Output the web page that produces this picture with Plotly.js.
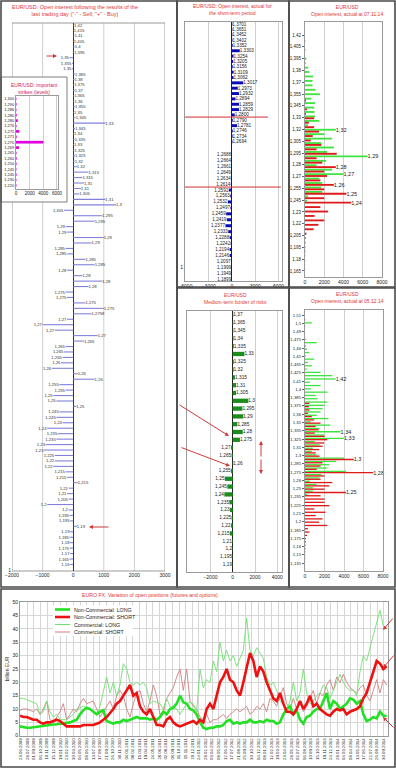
<!DOCTYPE html>
<html><head><meta charset="utf-8">
<script src="https://cdn.plot.ly/plotly-3.0.1.min.js"></script>
<style>html,body{margin:0;padding:0;background:#fff;}#chart{width:396px;height:768px;}</style>
</head><body><div id="chart"></div>
<script>
// ===== Left panel: open interest after last trading day =====
const leftStrikes = ["1,42","1,415","1,41","1,405","1,4","1,395","1,35","1,355","1,35","1,385",
"1,38","1,375","1,37","1,365","1,36","1,355","1,35","1,345","1,33","1,345",
"1,34","1,335","1,33","1,325","1,325","1,32","1,32","1,315","1,315","1,31",
"1,31","1,305","1,31","1,3","1,305","1,295","1,295","1,29","1,29","1,29",
"1,29","1,285","1,285","1,285","1,285","1,28","1,28","1,28","1,28","1,275",
"1,275","1,275","1,275","1,2758","1,27","1,27","1,27","1,27","1,265","1,265",
"1,265","1,265","1,26","1,26","1,26","1,26","1,255","1,255","1,25","1,25",
"1,25","1,245","1,245","1,24","1,24","1,235","1,235","1,23","1,23","1,225",
"1,22","1,22","1,215","1,215","1,215","1,21","1,21","1,205","1,2","1,2",
"1,195","1,195","1,19","1,19","1,185","1,18","1,175","1,17","1,165","1,16"];
const leftValues = [30,20,40,20,50,30,-120,-40,-40,60,
40,30,50,30,40,60,30,80,1050,60,
30,50,30,40,60,50,120,500,300,350,
250,200,1050,1400,-300,950,700,-250,-200,1000,
600,-250,-200,400,700,-200,300,950,500,-250,
-200,400,1000,600,-200,-1000,-600,800,350,-250,
-300,-350,-400,-700,150,700,-450,-250,-650,-550,
100,-450,-550,-350,-850,-500,-550,-900,-950,-600,
-600,-650,-250,-200,150,-150,-200,-150,-850,-150,
-120,-100,120,-100,-120,-100,-120,-100,-120,-100];

// ===== Inset: important strikes =====
const insetStrikes = ["1,300","1,290","1,286","1,280","1,280","1,276","1,275","1,271","1,270","1,269","1,265","1,260","1,250","1,245","1,240","1,230","1,220"];
const insetValues = [60,80,60,100,250,80,500,100,4000,450,80,100,80,60,80,60,60];

// ===== Middle top: short-term period =====
const mtTopStrikes = ["1,3701","1,3651","1,3452","1,3402","1,3352","1,3303","1,3254","1,3205","1,3156","1,3109","1,3062","1,3017","1,2973","1,2932","1,2894","1,2859","1,2829","1,2800","1,2790","1,2781","1,2746","1,2734","1,2694"];
const mtTopValues = [50,50,50,60,100,1000,200,150,100,220,200,1450,750,900,450,900,900,350,100,650,100,80,60];
const mtBotStrikes = ["1,2688","1,2664","1,2661","1,2649","1,2634","1,2614","1,2591","1,2563","1,2532","1,2497","1,2459","1,2419","1,2377","1,2333","1,2288","1,2242","1,2194","1,2146","1,2097","1,1999","1,1949","1,1899"];
const mtBotValues = [-50,-60,-50,-80,-100,-150,-420,-220,-530,-200,-750,-660,-840,-480,-300,-170,-300,-300,-100,-60,-50,-40];

// ===== Middle bottom: medium-term border of risks =====
const mbStrikes = ["1,37","1,365","1,345","1,34","1,335","1,33","1,325","1,32","1,315","1,31","1,305","1,3","1,295","1,29","1,285","1,28","1,275","1,27","1,265","1,26","1,255","1,25","1,245","1,24","1,235","1,23","1,225","1,22","1,215","1,21","1,2","1,195","1,19"];
const mbValues = [50,50,60,80,100,1050,100,80,200,300,300,1400,870,950,420,900,650,-150,-100,50,-150,-700,-480,-750,-300,-250,-100,-150,-250,-50,-30,-30,-30];

// ===== Right top: open interest 07.11.14 =====
const rtStrikes = [1.425,1.42,1.415,1.41,1.405,1.40,1.395,1.39,1.385,1.38,1.375,1.37,1.365,1.36,1.355,1.35,1.345,1.34,1.335,1.33,1.325,1.32,1.315,1.31,1.305,1.30,1.295,1.29,1.285,1.28,1.275,1.27,1.265,1.26,1.255,1.25,1.245,1.24,1.235,1.23,1.225,1.22,1.215,1.21,1.205,1.20,1.195,1.19,1.185,1.18,1.175,1.17,1.165];
const rtGreen = [0,40,0,60,0,150,80,300,450,850,780,780,1100,1550,650,1050,950,1000,1050,1500,300,3200,2000,2800,1700,3000,2300,6500,2200,1200,2800,4000,1500,1800,1700,1800,300,200,0,0,0,0,0,0,0,0,0,0,0,0,0,0,0];
const rtRed = [0,0,0,0,0,0,0,0,0,0,0,0,0,0,100,0,200,100,950,400,950,1450,800,600,1700,1200,3300,1200,1800,3200,2000,2300,1600,3000,2000,4300,2000,4800,1600,2400,1000,2000,1400,900,150,80,50,30,30,20,20,10,10];
const rtTickLabels = ["1,42","1,405","1,395","1,38","1,37","1,355","1,345","1,33","1,32","1,305","1,295","1,28","1,27","1,255","1,245","1,23","1,22","1,205","1,195","1,18","1,165"];
const rtGreenLabelAt = [1.32,1.29,1.27];
const rtRedLabelAt = [1.28,1.26,1.25,1.24];

// ===== Right bottom: open interest 05.12.14 =====
const rbStrikes = [1.515,1.51,1.505,1.50,1.495,1.49,1.485,1.48,1.475,1.47,1.465,1.46,1.455,1.45,1.445,1.44,1.435,1.43,1.425,1.42,1.415,1.41,1.405,1.40,1.395,1.39,1.385,1.38,1.375,1.37,1.365,1.36,1.355,1.35,1.345,1.34,1.335,1.33,1.325,1.32,1.315,1.31,1.305,1.30,1.295,1.29,1.285,1.28,1.275,1.27,1.265,1.26,1.255,1.25,1.245,1.24,1.235,1.23,1.225,1.22,1.215,1.21,1.205,1.20,1.195,1.19,1.185,1.18,1.175,1.17,1.165,1.16,1.155,1.15,1.145,1.14,1.135];
const rbGreen = [0,50,700,50,0,30,0,100,1200,100,200,450,100,950,300,700,200,1600,2800,3150,500,1600,600,2300,1100,1300,2300,2000,1800,1600,1200,2400,600,2600,1500,3650,2000,4000,1000,1500,800,700,1200,4000,3200,2500,2300,4200,1700,1500,500,1200,800,800,200,0,0,0,0,0,0,0,0,0,0,0,0,0,0,0,0,0,0,0,0,0,0];
const rbRed = [0,0,0,0,0,0,0,0,0,0,0,0,0,0,0,0,0,0,0,0,0,0,0,0,0,0,450,400,450,300,700,950,1600,1100,1400,1000,2000,2300,1950,1800,1450,1100,1500,5000,1800,1600,1200,7000,2000,1600,2800,2500,2000,4200,1600,2000,2000,2500,950,2100,1100,1800,1450,2300,300,450,200,100,100,50,50,30,30,20,20,10,10];
const rbTickLabels = ["1,51","1,5","1,49","1,475","1,46","1,45","1,435","1,425","1,41","1,4","1,385","1,375","1,36","1,35","1,335","1,325","1,31","1,3","1,285","1,275","1,26","1,25","1,235","1,225","1,21","1,2","1,185","1,175","1,16","1,15","1,135"];
const rbGreenLabelAt = [1.42,1.34,1.33];
const rbRedLabelAt = [1.30,1.28,1.25];

// ===== Bottom: EURO FX open positions (billion EUR) =====
const dates = ["23.06.2009","28.07.2009","01.09.2009","06.10.2009","10.11.2009","15.12.2009","19.01.2010","23.02.2010","30.03.2010","04.05.2010","08.06.2010","13.07.2010","17.08.2010","21.09.2010","26.10.2010","30.11.2010","04.01.2011","08.02.2011","15.03.2011","19.04.2011","24.05.2011","28.06.2011","02.08.2011","06.09.2011","11.10.2011","15.11.2011","20.12.2011","24.01.2012","28.02.2012","03.04.2012","08.05.2012","12.06.2012","17.07.2012","21.08.2012","25.09.2012","30.10.2012","04.12.2012","08.01.2013","12.02.2013","19.03.2013","23.04.2013","28.05.2013","02.07.2013","06.08.2013","10.09.2013","15.10.2013","19.11.2013","24.12.2013","28.01.2014","04.03.2014","08.04.2014","13.05.2014","17.06.2014","22.07.2014","26.08.2014","30.09.2014"];
const ncLong = [3.5,3.2,3,3,3.2,3.3,3.5,3.6,3.8,4, 4.2,4.3,4.5,4.5,4.8,5,5.5,6,8,9.5, 10.5,10,9,8,9,9.5,5.5,5,4.5,5, 5,6,5.5,6,6.5,7,6.5,6.5,6.5,6, 6.5,6,7,9,8,10,10.5,12,15,12.5, 12,10,9.5,8,5,3,2.5,3,3,3.5, 3.5,4,5.5,6,4.5,5,4.5,5,5,6, 5,5,5.5,5,6,5.5,5.5,4.5,5,8, 10,11,8,9.5,6,4.5,7,7.5,9,10, 10,13,16,10,13,12,10,11,12,14, 13.5,12,13,8,5.5,6,7,6.5,9,7.5,7.5];
const ncShort = [7.5,7,7,6.5,6,6,5,4.5,5,5, 5.5,6,5.5,4.5,3.5,3.5,3.5,3.5,3.5,4, 4,4,4,4.5,5,6,7,8.5,10,12, 13,15,17,19,15,16,11,9,8,10, 7,4,4,3.5,6,7,5,4,3.5,4, 4.5,5,5.5,4.5,6,5,10,12,10,15, 20,22,25,21,20,17,15,20,26,31, 28,22,26,24,20,17,14,13,16,12, 9,9,8,10,13,10,12,15,11,12, 10,9,8,7.5,9,10,9.5,10,8,9, 9.5,10,11,14,16,20,24,28,27,25,26];
const cLong = [14,14,13.5,13,12.5,12,8,9,13,9, 7,8,6,6,6,7,8,10,10.5,11, 10.5,10,9,8,11,17,22,16,20,15, 19,27,25,20,19,20,19,20,18,12, 13,12.5,12,10,14,11,10.5,10,8,10, 12,12.5,12,9,25,18,21,20,28,24, 35,28,32,28,30,26,29,32,44,32, 30,33,31,29,22,19,20,17,13,12, 10,13,20,13,16,25,16,12,13,15, 16,19,18,14,17,20,23,20,18,17, 17,15,24,30,28,33,38,42,47,41,40];
const cShort = [9.5,10,10,9.5,9,10,8,10,13,6, 5,7,9,12,6,8,10,9,12,14, 12,12.5,13,10,7,9,11,13,10,15, 17,15,10,7,12,16,17,12,9,13, 19,15,8,9,14,16,18,22,25,17, 25,13,11,10,7,6,8,5,6,6, 7,8,6.5,8,9,10,9,10,11,8, 9,11,10,12,9,14,13,11,15,18, 12,10,14,10,13,9,11,14,17,12, 16,15,19,21,17,22,20,23,20,18, 17,16,18,19,15,13,17,21,16,21,19];

// ===== Helpers =====
const W = 396, H = 768;
const F = 'Liberation Sans, Arial, sans-serif';
const RED = '#e03636';
const px = x => x / W, py = y => 1 - y / H;
const fmt = s => String(s).replace('.', ',');
const idx = a => a.map((_, i) => i);
const dom = (a, b) => [px(a), px(b)];
const domY = (top, bottom) => [py(bottom), py(top)];
function ax(o) {
  return Object.assign({showgrid:false, zeroline:false, showline:false, ticks:'',
    tickfont:{family:F, size:5, color:'#222'}, fixedrange:true, automargin:false}, o);
}
const boxed = {showline:true, mirror:true, linecolor:'#9a9a9a', linewidth:1};

const barBase = {type:'bar', orientation:'h', hoverinfo:'skip', showlegend:false,
  textposition:'outside', textangle:0, constraintext:'none', cliponaxis:false};

const data = [];
// left main
data.push(Object.assign({}, barBase, {x:leftValues, y:idx(leftValues), xaxis:'x', yaxis:'y',
  width:0.2, marker:{color:'#8080dc'}, text:leftStrikes, textfont:{family:F, size:4.2, color:'#333'}}));
// inset
data.push(Object.assign({}, barBase, {x:insetValues, y:idx(insetValues), xaxis:'x2', yaxis:'y2',
  width:0.5, marker:{color:'#e000e0'}, textposition:'none'}));
// middle top
data.push(Object.assign({}, barBase, {x:mtTopValues, y:idx(mtTopValues), xaxis:'x3', yaxis:'y3',
  width:0.55, marker:{color:'#0a0ab8'}, text:mtTopStrikes, textfont:{family:F, size:4.6, color:'#222'}}));
data.push(Object.assign({}, barBase, {x:mtBotValues, y:idx(mtBotValues), xaxis:'x3', yaxis:'y8',
  width:0.5, marker:{color:'#0a0ab8'}, text:mtBotStrikes, textfont:{family:F, size:4.6, color:'#222'}}));
// middle bottom
data.push(Object.assign({}, barBase, {x:mbValues, y:idx(mbValues), xaxis:'x5', yaxis:'y5',
  width:0.55, marker:{color:'#1c8c1c'}, text:mbStrikes, textfont:{family:F, size:4.8, color:'#222'}}));
// right top
data.push(Object.assign({}, barBase, {x:rtGreen, y:rtStrikes, xaxis:'x4', yaxis:'y4', width:0.0021, offset:0,
  marker:{color:'#3fe33f'}, text:rtStrikes.map(s => rtGreenLabelAt.includes(s) ? fmt(s) : ''),
  textfont:{family:F, size:5.5, color:'#222'}}));
data.push(Object.assign({}, barBase, {x:rtRed, y:rtStrikes, xaxis:'x4', yaxis:'y4', width:0.0021, offset:-0.0021,
  marker:{color:'#dd1a1a'}, text:rtStrikes.map(s => rtRedLabelAt.includes(s) ? fmt(s) : ''),
  textfont:{family:F, size:5.5, color:'#222'}}));
// right bottom
data.push(Object.assign({}, barBase, {x:rbGreen, y:rbStrikes, xaxis:'x6', yaxis:'y6', width:0.002, offset:0,
  marker:{color:'#3fe33f'}, text:rbStrikes.map(s => rbGreenLabelAt.includes(s) ? fmt(s) : ''),
  textfont:{family:F, size:5.5, color:'#222'}}));
data.push(Object.assign({}, barBase, {x:rbRed, y:rbStrikes, xaxis:'x6', yaxis:'y6', width:0.002, offset:-0.002,
  marker:{color:'#dd1a1a'}, text:rbStrikes.map(s => rbRedLabelAt.includes(s) ? fmt(s) : ''),
  textfont:{family:F, size:5.5, color:'#222'}}));
// bottom lines
const lineBase = {type:'scatter', mode:'lines', xaxis:'x7', yaxis:'y7', hoverinfo:'skip', showlegend:false};
data.push(Object.assign({}, lineBase, {x:idx(cShort), y:cShort, line:{color:'#d08080', width:0.9}}));
data.push(Object.assign({}, lineBase, {x:idx(cLong), y:cLong, line:{color:'#70e070', width:0.9}}));
data.push(Object.assign({}, lineBase, {x:idx(ncLong), y:ncLong, line:{color:'#22e022', width:2.6}}));
data.push(Object.assign({}, lineBase, {x:idx(ncShort), y:ncShort, line:{color:'#ee1111', width:2.6}}));

// ===== Shapes =====
function rect(x0, y0, x1, y1, o) {
  return Object.assign({type:'rect', xref:'paper', yref:'paper', x0:px(x0), x1:px(x1), y0:py(y1), y1:py(y0)}, o);
}
function pline(x0, y0, x1, y1, color, w, layer) {
  return {type:'line', xref:'paper', yref:'paper', x0:px(x0), x1:px(x1), y0:py(y0), y1:py(y1),
    line:{color:color, width:w}, layer:layer || 'above'};
}
function vseg(xv, ytop, ybot, color) {
  return {type:'line', xref:'x', yref:'paper', x0:xv, x1:xv, y0:py(ybot), y1:py(ytop),
    line:{color:color, width:1}, layer:'below'};
}
const shapes = [];
shapes.push(vseg(-1000, 23, 77, '#cfcfcf'), vseg(-1000, 202, 571, '#cfcfcf'));
shapes.push(vseg(1000, 23, 571, '#cfcfcf'), vseg(2000, 23, 571, '#cfcfcf'));
shapes.push(vseg(-2000, 23, 77, '#9a9a9a'), vseg(-2000, 202, 571, '#9a9a9a'), vseg(3000, 23, 571, '#9a9a9a'));
shapes.push({type:'line', xref:'x', yref:'paper', x0:-2000, x1:3000, y0:py(23), y1:py(23), line:{color:'#9a9a9a', width:1}, layer:'below'});
shapes.push({type:'line', xref:'x', yref:'paper', x0:-2000, x1:3000, y0:py(571), y1:py(571), line:{color:'#9a9a9a', width:1}, layer:'below'});
shapes.push(rect(1, 77, 67, 202, {fillcolor:'#ffffff', line:{color:'#808080', width:1}, layer:'below'}));
shapes.push({type:'line', xref:'x3', yref:'y3', x0:-6050, x1:4630, y0:17.4, y1:17.4, line:{color:'#d03030', width:1}});
shapes.push({type:'line', xref:'x3', yref:'y8', x0:-6050, x1:6300, y0:5.5, y1:5.5, line:{color:'#d03030', width:1}});
shapes.push(rect(53, 605, 133, 636, {fillcolor:'#ffffff', line:{width:0}, layer:'above'}));
shapes.push(pline(55, 609.5, 70, 609.5, '#22e022', 2.6));
shapes.push(pline(55, 617, 70, 617, '#ee1111', 2.6));
shapes.push(pline(55, 624.5, 70, 624.5, '#70e070', 1));
shapes.push(pline(55, 632, 70, 632, '#d08080', 1));
[[1,1,177,587],[177,1,289,287],[289,1,395,287],[177,288,289,587],[289,288,395,587],[1,589,395,767]].forEach(r =>
  shapes.push(rect(r[0], r[1], r[2], r[3], {line:{color:'#4a4a4a', width:1.6}, fillcolor:'rgba(0,0,0,0)', layer:'above'})));

// ===== Annotations =====
function txt(x, y, t, size, color, xanchor) {
  return {xref:'paper', yref:'paper', x:px(x), y:py(y), text:t, showarrow:false,
    font:{family:F, size:size, color:color}, xanchor:xanchor || 'center', yanchor:'middle', align:'center'};
}
function arr(hx, hy, tx, ty) {
  return {xref:'paper', yref:'paper', x:px(hx), y:py(hy), ax:tx - hx, ay:ty - hy, text:'', showarrow:true,
    arrowhead:2, arrowsize:0.8, arrowwidth:1, arrowcolor:'#cc3a3a'};
}
const annotations = [
  txt(75, 11, 'EUR/USD: Open interest following the results of the<br>last trading day ("-" - Sell; "+" - Buy)', 5.5, RED),
  txt(34, 88, 'EUR/USD: important<br>strikes (levels)', 5, '#d02060'),
  txt(233, 9.5, 'EUR/USD: Open interest, actual for<br>the short-term period', 5, RED),
  txt(347, 10, 'EUR/USD<br>Open interest, actual at 07.11.14', 5, RED),
  txt(235, 298.5, 'EUR/USD<br>Medium-term border of risks', 5, RED),
  txt(347, 298, 'EUR/USD<br>Open interest, actual at 05.12.14', 5, RED),
  txt(150, 594.5, 'EURO FX: Variation of open positions (futures and options)', 5.2, RED),
  txt(72, 609.5, 'Non-Commercial: LONG', 5.3, '#222', 'left'),
  txt(72, 617, 'Non-Commercial: SHORT', 5.3, '#222', 'left'),
  txt(72, 624.5, 'Commercial: LONG', 5.3, '#222', 'left'),
  txt(72, 632, 'Commercial: SHORT', 5.3, '#222', 'left'),
  arr(57, 56, 45, 56),
  arr(89, 527, 110, 527),
  arr(229, 436, 178, 404),
  arr(230, 466, 180, 447),
  arr(261, 441, 261, 458),
  arr(261, 474, 261, 458),
  arr(383, 630, 394, 617),
  arr(383, 668, 395, 654),
  arr(383, 717, 395, 729)
];

const layout = {
  width:W, height:H, margin:{l:0, r:0, t:0, b:0, pad:0}, autosize:false,
  paper_bgcolor:'#ffffff', plot_bgcolor:'rgba(0,0,0,0)', showlegend:false, barmode:'overlay',
  font:{family:F, size:5, color:'#222'},
  xaxis: ax({domain:dom(12,165), anchor:'y', range:[-2000,3000], tickvals:[-2000,-1000,0,1000,2000,3000],
    zeroline:true, zerolinecolor:'#333', zerolinewidth:1}),
  yaxis: ax({domain:domY(23,571), anchor:'x', range:[100.2,-0.37], tickvals:[100], ticktext:['1']}),
  xaxis2: ax(Object.assign({domain:dom(16,58), anchor:'y2', range:[0,6150], tickvals:[0,2000,4000,6000],
    showgrid:true, gridcolor:'#cfcfcf', tickfont:{family:F, size:4.5, color:'#222'}}, boxed)),
  yaxis2: ax(Object.assign({domain:domY(96,189), anchor:'x2', range:[16.67,-0.56], tickvals:idx(insetStrikes),
    ticktext:insetStrikes, tickfont:{family:F, size:4, color:'#222'}}, boxed)),
  xaxis3: ax(Object.assign({domain:dom(185,282), anchor:'y3', range:[-6050,6440], tickvals:[-6000,-3000,0,3000,6000],
    showgrid:true, gridcolor:'#cfcfcf', zeroline:true, zerolinecolor:'#222', zerolinewidth:1}, boxed)),
  yaxis3: ax(Object.assign({domain:domY(22,281), anchor:'x3', range:[48.04,-0.374], tickvals:[45.4], ticktext:['1']}, boxed)),
  yaxis8: ax({overlaying:'y3', anchor:'x3', range:[21.29,-22.24], visible:false}),
  xaxis4: ax(Object.assign({domain:dom(305,382), anchor:'y4', range:[0,8000], tickvals:[0,2000,4000,6000,8000],
    showgrid:true, gridcolor:'#cfcfcf'}, boxed)),
  yaxis4: ax(Object.assign({domain:domY(22,277), anchor:'x4', range:[1.1552,1.4424],
    tickvals:rtTickLabels.map((_, k) => 1.4277 - k * 0.013285), ticktext:rtTickLabels,
    ticks:'outside', ticklen:2, tickcolor:'#666', tickfont:{family:F, size:4.5, color:'#222'}}, boxed)),
  xaxis5: ax(Object.assign({domain:dom(187,282), anchor:'y5', range:[-4100,4420], tickvals:[-2000,0,2000,4000],
    showgrid:true, gridcolor:'#cfcfcf', zeroline:true, zerolinecolor:'#222', zerolinewidth:1}, boxed)),
  yaxis5: ax(Object.assign({domain:domY(311,572), anchor:'x5', range:[32.95,-0.51], showticklabels:false}, boxed)),
  xaxis6: ax(Object.assign({domain:dom(305,383), anchor:'y6', range:[0,8000], tickvals:[0,2000,4000,6000,8000],
    showgrid:true, gridcolor:'#cfcfcf'}, boxed)),
  yaxis6: ax(Object.assign({domain:domY(310,571), anchor:'x6', range:[1.13,1.5255],
    tickvals:rbTickLabels.map((_, k) => 1.5179 - k * 0.01253), ticktext:rbTickLabels,
    ticks:'outside', ticklen:2, tickcolor:'#666', tickfont:{family:F, size:4.3, color:'#222'}}, boxed)),
  xaxis7: ax(Object.assign({domain:dom(20,388), anchor:'y7', range:[0,110.4],
    tickvals:dates.map((_, i) => 0.2 + 1.98 * i), ticktext:dates, tickangle:-90,
    showgrid:true, gridcolor:'#d6d6d6', tickfont:{family:F, size:4.3, color:'#222'}}, boxed)),
  yaxis7: ax(Object.assign({domain:domY(602.3,735.7), anchor:'x7', range:[0,50], tickvals:[0,5,10,15,20,25,30,35,40,45,50],
    showgrid:true, gridcolor:'#d6d6d6', title:{text:'billion EUR', font:{family:F, size:5, color:'#222'}, standoff:2}}, boxed)),
  shapes: shapes,
  annotations: annotations
};

Plotly.newPlot('chart', data, layout, {staticPlot:true, displayModeBar:false});
</script>
</body></html>
